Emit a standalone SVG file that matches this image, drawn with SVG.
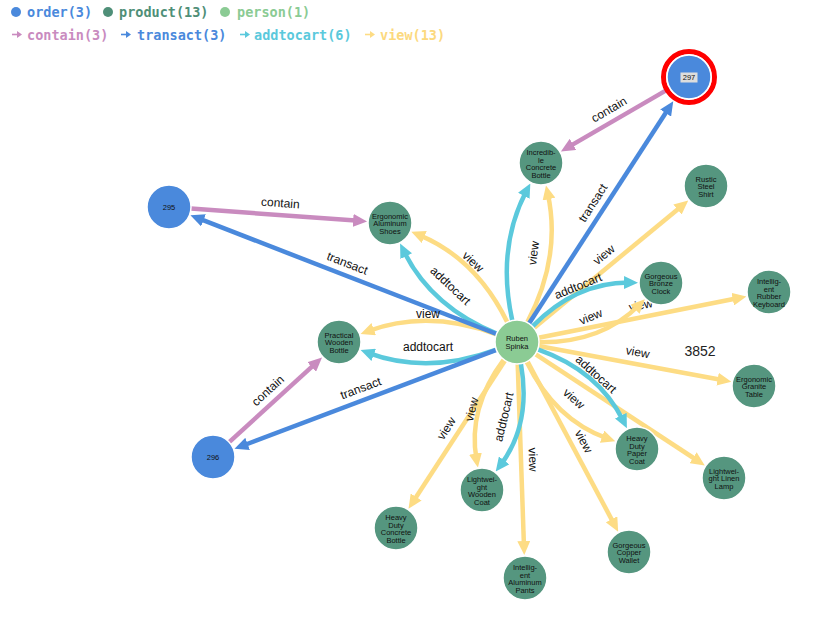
<svg xmlns="http://www.w3.org/2000/svg" width="815" height="625" viewBox="0 0 815 625">
<defs>
<style>
.e{fill:none;stroke-width:4.5}
.contain{stroke:#c98bbf}
.transact{stroke:#4a89dc}
.addtocart{stroke:#5bc9dc}
.view{stroke:#fddc84}
.lbl{font-family:"Liberation Sans",Arial,sans-serif;font-size:12px;fill:#111;text-anchor:middle}
.n circle{stroke:#fff;stroke-width:1.5}
.n circle.ring{fill:none;stroke:#f00;stroke-width:5}
.order{fill:#4a89dc}
.product{fill:#55967f}
.person{fill:#8bcb94}
.nt{font-family:"Liberation Sans",Arial,sans-serif;font-size:7.5px;fill:#111;text-anchor:middle}
.lg{font-family:"DejaVu Sans Mono",monospace;font-weight:bold;font-size:13.5px}
</style>
<marker id="mC" viewBox="0 0 14 13" markerWidth="14" markerHeight="13" refX="6" refY="6.5" orient="auto" markerUnits="userSpaceOnUse"><path d="M0,0 L14,6.5 L0,13 z" fill="#c98bbf"/></marker>
<marker id="mT" viewBox="0 0 14 13" markerWidth="14" markerHeight="13" refX="6" refY="6.5" orient="auto" markerUnits="userSpaceOnUse"><path d="M0,0 L14,6.5 L0,13 z" fill="#4a89dc"/></marker>
<marker id="mA" viewBox="0 0 14 13" markerWidth="14" markerHeight="13" refX="6" refY="6.5" orient="auto" markerUnits="userSpaceOnUse"><path d="M0,0 L14,6.5 L0,13 z" fill="#5bc9dc"/></marker>
<marker id="mV" viewBox="0 0 14 13" markerWidth="14" markerHeight="13" refX="6" refY="6.5" orient="auto" markerUnits="userSpaceOnUse"><path d="M0,0 L14,6.5 L0,13 z" fill="#fddc84"/></marker>
</defs>
<rect width="815" height="625" fill="#fff"/>

<g id="legend">
<circle cx="16" cy="12" r="5" fill="#4a89dc"/><text class="lg" x="27" y="17" fill="#4a89dc">order(3)</text>
<circle cx="108" cy="12" r="5" fill="#4f8f78"/><text class="lg" x="119" y="17" fill="#4f8f78">product(13)</text>
<circle cx="225" cy="12" r="5" fill="#8bcb94"/><text class="lg" x="237" y="17" fill="#8bcb94">person(1)</text>
<g stroke-width="1.6"><line x1="12" y1="34.5" x2="19" y2="34.5" stroke="#c98bbf"/><path d="M17,31 L22,34.5 L17,38 z" fill="#c98bbf"/></g>
<text class="lg" x="27" y="40" fill="#c98bbf">contain(3)</text>
<g stroke-width="1.6"><line x1="121" y1="34.5" x2="128" y2="34.5" stroke="#4a89dc"/><path d="M126,31 L131,34.5 L126,38 z" fill="#4a89dc"/></g>
<text class="lg" x="137" y="40" fill="#4a89dc">transact(3)</text>
<g stroke-width="1.6"><line x1="240" y1="34.5" x2="247" y2="34.5" stroke="#5bc9dc"/><path d="M245,31 L250,34.5 L245,38 z" fill="#5bc9dc"/></g>
<text class="lg" x="254" y="40" fill="#5bc9dc">addtocart(6)</text>
<g stroke-width="1.6"><line x1="365" y1="34.5" x2="372" y2="34.5" stroke="#fddc84"/><path d="M370,31 L375,34.5 L370,38 z" fill="#fddc84"/></g>
<text class="lg" x="380" y="40" fill="#fcd97e">view(13)</text>
</g>

<g id="edges">
<path class="e view" marker-end="url(#mV)" d="M534.0,328.0 L682.1,205.7"/>
<path class="e view" marker-end="url(#mV)" d="M538.6,337.7 L738.6,298.0"/>
<text class="lbl" transform="translate(643,317) rotate(-11.2)" y="-8">view</text>
<path class="e view" marker-end="url(#mV)" d="M538.6,346.0 L723.5,380.3"/>
<path class="e view" marker-end="url(#mV)" d="M535.4,354.1 L698.1,461.0"/>
<path class="e view" marker-end="url(#mV)" d="M527.4,361.4 L614.4,524.6"/>
<path class="e view" marker-end="url(#mV)" d="M517.7,364.0 L524.0,547.0"/>
<path class="e view" marker-end="url(#mV)" d="M505.0,360.4 L412.9,502.0"/>
<path class="e view" marker-end="url(#mV)" d="M527.2,322.5 Q561.7,256.9 547.7,193.3"/>
<path class="e view" marker-end="url(#mV)" d="M507.3,322.2 Q476.1,258.4 418.7,234.8"/>
<path class="e view" marker-end="url(#mV)" d="M496.4,334.4 Q428,309 368.1,331.2"/>
<path class="e view" marker-end="url(#mV)" d="M539,342.3 Q601.5,343.0 639.2,305.0"/>
<path class="e view" marker-end="url(#mV)" d="M526.6,361.8 Q555.0,420.1 607.7,438.7"/>
<path class="e view" marker-end="url(#mV)" d="M503.8,359.6 Q467.4,408.4 476.5,459.5"/>
<path class="e addtocart" marker-end="url(#mA)" d="M512.3,320.5 Q496.3,248.1 526.6,190.5"/>
<path class="e addtocart" marker-end="url(#mA)" d="M496.7,333.6 Q430.9,306.6 403.6,250.8"/>
<path class="e addtocart" marker-end="url(#mA)" d="M496.4,349.6 Q428,375 368.1,352.8"/>
<path class="e addtocart" marker-end="url(#mA)" d="M532.5,326.4 Q576.5,282.0 630,282.6"/>
<path class="e addtocart" marker-end="url(#mA)" d="M537.8,349.3 Q599.0,370.9 623.4,421.1"/>
<path class="e addtocart" marker-end="url(#mA)" d="M520.9,363.7 Q531.6,423.6 500.5,465.2"/>
<path class="e transact" marker-end="url(#mT)" d="M529.0,323.5 L668.9,108.0"/>
<path class="e transact" marker-end="url(#mT)" d="M496.5,334.0 L197.9,218.2"/>
<path class="e transact" marker-end="url(#mT)" d="M496.4,349.8 L242.0,446.0"/>
<path class="e contain" marker-end="url(#mC)" d="M670.0,88.1 L567.8,147.4"/>
<path class="e contain" marker-end="url(#mC)" d="M190.9,208.6 L359.1,220.8"/>
<path class="e contain" marker-end="url(#mC)" d="M229.2,442.2 L316.1,362.9"/>

<text class="lbl" transform="translate(615,120) rotate(-30.2)" y="-8">contain</text>
<text class="lbl" transform="translate(279.5,215) rotate(4.1)" y="-8">contain</text>
<text class="lbl" transform="translate(276,399.5) rotate(-42.4)" y="-8">contain</text>
<text class="lbl" transform="translate(603,209.5) rotate(-57)" y="-8">transact</text>
<text class="lbl" transform="translate(343,274.5) rotate(21.2)" y="-8">transact</text>
<text class="lbl" transform="translate(365,399.5) rotate(-20.7)" y="-8">transact</text>
<text class="lbl" transform="translate(611.5,264) rotate(-39.5)" y="-8">view</text>
<text class="lbl" transform="translate(635.5,364) rotate(10.5)" y="-8">view</text>
<text class="lbl" transform="translate(573,447) rotate(61.9)" y="-8">view</text>
<text class="lbl" transform="translate(521,460) rotate(88.1)" y="-8">view</text>
<text class="lbl" transform="translate(456.5,435) rotate(-57)" y="-8">view</text>
<text class="lbl" transform="translate(545.4,254.7) rotate(-82.4)" y="-8">view</text>
<text class="lbl" transform="translate(442.2,294.5) rotate(43.1)" y="-8">addtocart</text>
<text class="lbl" transform="translate(464.8,270.5) rotate(43.1)" y="-8">view</text>
<text class="lbl" transform="translate(428,358.5)" y="-8">addtocart</text>
<text class="lbl" transform="translate(428,325.5)" y="-8">view</text>
<text class="lbl" transform="translate(582.7,297.2) rotate(-22.3)" y="-8">addtocart</text>
<text class="lbl" transform="translate(595.3,327.8) rotate(-22.3)" y="-8">view</text>
<text class="lbl" transform="translate(588,383.2) rotate(41.7)" y="-8">addtocart</text>
<text class="lbl" transform="translate(566,407.8) rotate(41.7)" y="-8">view</text>
<text class="lbl" transform="translate(515.6,419.8) rotate(-76.7)" y="-8">addtocart</text>
<text class="lbl" transform="translate(483.4,412.2) rotate(-76.7)" y="-8">view</text>
</g>

<g id="nodes">
<g id="n297" class="n"><circle class="ring" cx="689" cy="77" r="25.5"/><circle class="order" cx="689" cy="77" r="22"/><rect x="680.5" y="72.5" width="17" height="10" fill="#ddd"/><text class="nt" x="689" y="80">297</text></g>
<g id="n295" class="n"><circle class="order" cx="169" cy="207" r="22"/><text class="nt" x="169" y="210">295</text></g>
<g id="n296" class="n"><circle class="order" cx="213" cy="457" r="22"/><text class="nt" x="213" y="460">296</text></g>
<g id="ruben" class="n"><circle class="person" cx="517" cy="342" r="22"/><text class="nt" x="517" y="341">Ruben</text><text class="nt" x="517" y="348.5">Spinka</text></g>
<g id="icb" class="n"><circle class="product" cx="541" cy="163" r="22"/><text class="nt" x="541" y="155">Incredib-</text><text class="nt" x="541" y="162.5">le</text><text class="nt" x="541" y="170">Concrete</text><text class="nt" x="541" y="177.5">Bottle</text></g>
<g id="rss" class="n"><circle class="product" cx="706" cy="186" r="22"/><text class="nt" x="706" y="181.5">Rustic</text><text class="nt" x="706" y="189">Steel</text><text class="nt" x="706" y="196.5">Shirt</text></g>
<g id="eas" class="n"><circle class="product" cx="390" cy="223" r="22"/><text class="nt" x="390" y="218.5">Ergonomic</text><text class="nt" x="390" y="226">Aluminum</text><text class="nt" x="390" y="233.5">Shoes</text></g>
<g id="gbc" class="n"><circle class="product" cx="661" cy="283" r="22"/><text class="nt" x="661" y="278.5">Gorgeous</text><text class="nt" x="661" y="286">Bronze</text><text class="nt" x="661" y="293.5">Clock</text></g>
<g id="irk" class="n"><circle class="product" cx="769" cy="292" r="22"/><text class="nt" x="769" y="284">Intellig-</text><text class="nt" x="769" y="291.5">ent</text><text class="nt" x="769" y="299">Rubber</text><text class="nt" x="769" y="306.5">Keyboard</text></g>
<g id="pwb" class="n"><circle class="product" cx="339" cy="342" r="22"/><text class="nt" x="339" y="337.5">Practical</text><text class="nt" x="339" y="345">Wooden</text><text class="nt" x="339" y="352.5">Bottle</text></g>
<g id="egt" class="n"><circle class="product" cx="754" cy="386" r="22"/><text class="nt" x="754" y="381.5">Ergonomic</text><text class="nt" x="754" y="389">Granite</text><text class="nt" x="754" y="396.5">Table</text></g>
<g id="hdpc" class="n"><circle class="product" cx="637" cy="449" r="22"/><text class="nt" x="637" y="441">Heavy</text><text class="nt" x="637" y="448.5">Duty</text><text class="nt" x="637" y="456">Paper</text><text class="nt" x="637" y="463.5">Coat</text></g>
<g id="lll" class="n"><circle class="product" cx="724" cy="478" r="22"/><text class="nt" x="724" y="473.5">Lightwei-</text><text class="nt" x="724" y="481">ght  Linen</text><text class="nt" x="724" y="488.5">Lamp</text></g>
<g id="lwc" class="n"><circle class="product" cx="482" cy="490" r="22"/><text class="nt" x="482" y="482">Lightwei-</text><text class="nt" x="482" y="489.5">ght</text><text class="nt" x="482" y="497">Wooden</text><text class="nt" x="482" y="504.5">Coat</text></g>
<g id="hdcb" class="n"><circle class="product" cx="396" cy="528" r="22"/><text class="nt" x="396" y="520">Heavy</text><text class="nt" x="396" y="527.5">Duty</text><text class="nt" x="396" y="535">Concrete</text><text class="nt" x="396" y="542.5">Bottle</text></g>
<g id="gcw" class="n"><circle class="product" cx="629" cy="552" r="22"/><text class="nt" x="629" y="547.5">Gorgeous</text><text class="nt" x="629" y="555">Copper</text><text class="nt" x="629" y="562.5">Wallet</text></g>
<g id="iap" class="n"><circle class="product" cx="525" cy="578" r="22"/><text class="nt" x="525" y="570">Intellig-</text><text class="nt" x="525" y="577.5">ent</text><text class="nt" x="525" y="585">Aluminum</text><text class="nt" x="525" y="592.5">Pants</text></g>
</g>

<text x="700" y="356" font-family="Liberation Sans, Arial, sans-serif" font-size="14" fill="#222" text-anchor="middle">3852</text>
</svg>
